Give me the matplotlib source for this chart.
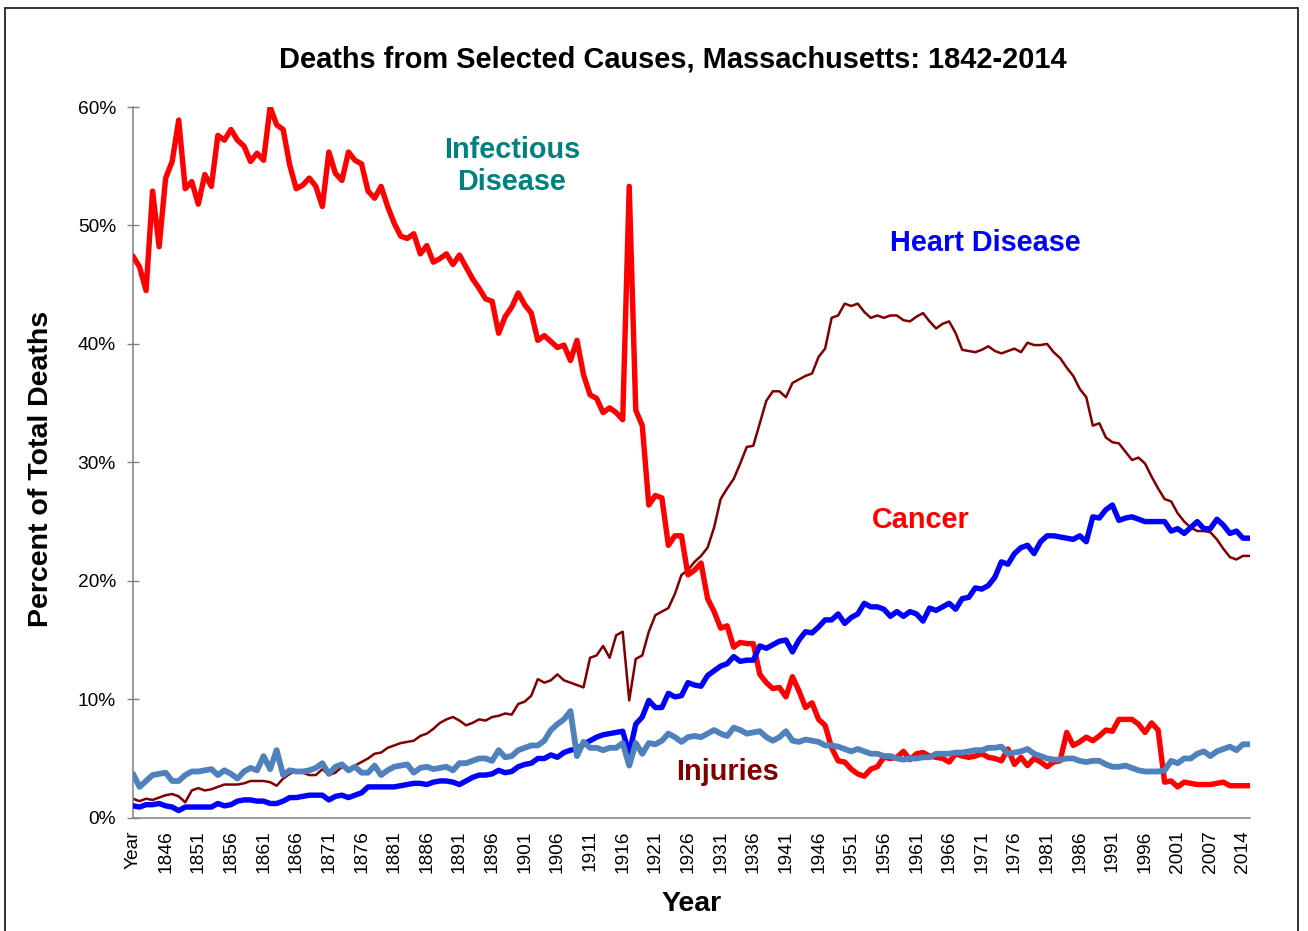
import matplotlib
matplotlib.use("Agg")
import matplotlib.pyplot as plt
from matplotlib.patches import Rectangle

plt.rcParams['font.family'] = ['Liberation Sans', 'DejaVu Sans']

# ---------------- data (percent of total deaths), one value per category ----------------
infectious = [
    47.4, 46.5, 44.5, 52.9, 48.2, 54.0, 55.4, 58.9, 53.1, 53.7,
    51.8, 54.3, 53.3, 57.6, 57.2, 58.1, 57.2, 56.7, 55.4, 56.1,
    55.5, 60.0, 58.5, 58.1, 55.1, 53.1, 53.4, 54.0, 53.3, 51.6,
    56.2, 54.4, 53.8, 56.2, 55.5, 55.2, 52.9, 52.3, 53.3, 51.6,
    50.2, 49.1, 48.9, 49.3, 47.6, 48.3, 46.9, 47.2, 47.6, 46.7,
    47.5, 46.5, 45.5, 44.7, 43.8, 43.6, 40.9, 42.3, 43.1, 44.3,
    43.3, 42.6, 40.3, 40.7, 40.2, 39.7, 39.9, 38.6, 40.3, 37.4,
    35.7, 35.4, 34.2, 34.6, 34.2, 33.6, 53.3, 34.4, 33.1, 26.4,
    27.2, 27.0, 23.0, 23.8, 23.8, 20.5, 20.9, 21.5, 18.5, 17.4,
    16.0, 16.2, 14.4, 14.8, 14.7, 14.7, 12.1, 11.4, 10.9, 11.0,
    10.2, 11.9, 10.7, 9.3, 9.7, 8.3, 7.8, 5.9, 4.8, 4.7,
    4.1, 3.7, 3.5, 4.1, 4.3, 5.1, 5.0, 5.1, 5.6, 4.9,
    5.4, 5.5, 5.2, 5.1, 5.0, 4.7, 5.4, 5.2, 5.1, 5.2,
    5.4, 5.1, 5.0, 4.8, 5.8, 4.5, 5.1, 4.4, 5.0, 4.7,
    4.3, 4.7, 4.8, 7.2, 6.1, 6.4, 6.8, 6.5, 6.9, 7.4,
    7.3, 8.3, 8.3, 8.3, 7.9, 7.2, 8.0, 7.4, 3.0, 3.1,
    2.6, 3.0, 2.9, 2.8, 2.8, 2.8, 2.9, 3.0, 2.7, 2.7,
    2.7, 2.7,
]

heart = [
    1.6, 1.4, 1.6, 1.5, 1.7, 1.9, 2.0, 1.8, 1.3, 2.3,
    2.5, 2.3, 2.4, 2.6, 2.8, 2.8, 2.8, 2.9, 3.1, 3.1,
    3.1, 3.0, 2.7, 3.3, 3.7, 4.0, 3.8, 3.6, 3.6, 4.1,
    3.6, 3.8, 4.3, 4.1, 4.4, 4.7, 5.0, 5.4, 5.5, 5.9,
    6.1, 6.3, 6.4, 6.5, 6.9, 7.1, 7.5, 8.0, 8.3, 8.5,
    8.2, 7.8, 8.0, 8.3, 8.2, 8.5, 8.6, 8.8, 8.7, 9.6,
    9.8, 10.3, 11.7, 11.4, 11.6, 12.1, 11.6, 11.4, 11.2, 11.0,
    13.5, 13.7, 14.5, 13.5, 15.4, 15.7, 9.9, 13.4, 13.7, 15.7,
    17.1, 17.4, 17.7, 18.9, 20.5, 20.9, 21.6, 22.1, 22.8, 24.5,
    26.9, 27.8, 28.6, 29.9, 31.3, 31.4, 33.3, 35.2, 36.0, 36.0,
    35.5, 36.7, 37.0, 37.3, 37.5, 38.9, 39.6, 42.2, 42.4, 43.4,
    43.2, 43.4, 42.7, 42.2, 42.4, 42.2, 42.4, 42.4, 42.0, 41.9,
    42.3, 42.6, 41.9, 41.3, 41.7, 41.9, 40.9, 39.5, 39.4, 39.3,
    39.5, 39.8, 39.4, 39.2, 39.4, 39.6, 39.3, 40.1, 39.9, 39.9,
    40.0, 39.3, 38.8, 38.0, 37.3, 36.2, 35.5, 33.1, 33.3, 32.1,
    31.7, 31.6, 30.9, 30.2, 30.4, 29.9, 28.8, 27.8, 26.9, 26.7,
    25.7, 25.0, 24.5, 24.2, 24.2, 24.1, 23.5, 22.7, 22.0, 21.8,
    22.1, 22.1,
]

cancer = [
    1.0, 0.9, 1.1, 1.1, 1.2, 1.0, 0.9, 0.6, 0.9, 0.9,
    0.9, 0.9, 0.9, 1.2, 1.0, 1.1, 1.4, 1.5, 1.5, 1.4,
    1.4, 1.2, 1.2, 1.4, 1.7, 1.7, 1.8, 1.9, 1.9, 1.9,
    1.5, 1.8, 1.9, 1.7, 1.9, 2.1, 2.6, 2.6, 2.6, 2.6,
    2.6, 2.7, 2.8, 2.9, 2.9, 2.8, 3.0, 3.1, 3.1, 3.0,
    2.8, 3.1, 3.4, 3.6, 3.6, 3.7, 4.0, 3.8, 3.9, 4.3,
    4.5, 4.6, 5.0, 5.0, 5.3, 5.1, 5.5, 5.7, 5.8, 6.2,
    6.5, 6.8, 7.0, 7.1, 7.2, 7.3, 5.4, 7.9, 8.5, 9.9,
    9.3, 9.3, 10.5, 10.2, 10.3, 11.4, 11.2, 11.1, 12.0, 12.4,
    12.8, 13.0, 13.6, 13.2, 13.3, 13.3, 14.5, 14.3, 14.6, 14.9,
    15.0, 14.0, 15.0, 15.7, 15.6, 16.1, 16.7, 16.7, 17.2, 16.4,
    16.9, 17.2, 18.1, 17.8, 17.8, 17.6, 17.0, 17.4, 17.0, 17.4,
    17.2, 16.6, 17.7, 17.5, 17.8, 18.1, 17.6, 18.5, 18.6, 19.4,
    19.3, 19.6, 20.3, 21.6, 21.4, 22.3, 22.8, 23.0, 22.3, 23.3,
    23.8, 23.8, 23.7, 23.6, 23.5, 23.8, 23.3, 25.4, 25.3, 26.0,
    26.4, 25.1, 25.3, 25.4, 25.2, 25.0, 25.0, 25.0, 25.0, 24.2,
    24.4, 24.0, 24.5, 25.0, 24.4, 24.4, 25.2, 24.7, 24.0, 24.2,
    23.6, 23.6,
]

injuries = [
    3.7, 2.6, 3.1, 3.6, 3.7, 3.8, 3.1, 3.1, 3.6, 3.9,
    3.9, 4.0, 4.1, 3.6, 4.0, 3.7, 3.3, 3.9, 4.2, 4.0,
    5.2, 4.1, 5.7, 3.6, 4.0, 3.9, 3.9, 4.0, 4.2, 4.6,
    3.7, 4.3, 4.5, 4.0, 4.3, 3.8, 3.8, 4.4, 3.6, 4.0,
    4.3, 4.4, 4.5, 3.8, 4.2, 4.3, 4.1, 4.2, 4.3, 4.0,
    4.6, 4.6, 4.8, 5.0, 5.0, 4.8, 5.7, 5.1, 5.2, 5.7,
    5.9, 6.1, 6.1, 6.5, 7.4, 7.9, 8.3, 9.0, 5.2, 6.4,
    5.9, 5.9, 5.7, 5.9, 5.9, 6.3, 4.4, 6.3, 5.4, 6.3,
    6.2, 6.5, 7.1, 6.8, 6.4, 6.8, 6.9, 6.8, 7.1, 7.4,
    7.1, 6.9, 7.6, 7.4, 7.1, 7.2, 7.3, 6.8, 6.5, 6.8,
    7.3, 6.5, 6.4, 6.6, 6.5, 6.4, 6.1, 6.1, 6.0, 5.8,
    5.6, 5.8, 5.6, 5.4, 5.4, 5.2, 5.2, 5.0, 4.9, 5.0,
    5.0, 5.1, 5.1, 5.4, 5.4, 5.4, 5.5, 5.5, 5.6, 5.7,
    5.7, 5.9, 5.9, 6.0, 5.4, 5.5, 5.6, 5.8, 5.4, 5.2,
    5.0, 4.9, 4.9, 5.0, 5.0, 4.8, 4.7, 4.8, 4.8, 4.5,
    4.3, 4.3, 4.4, 4.2, 4.0, 3.9, 3.9, 3.9, 4.0, 4.8,
    4.6, 5.0, 5.0, 5.4, 5.6, 5.2, 5.6, 5.8, 6.0, 5.7,
    6.2, 6.2,
]

# category-axis labels (shown every 5th category)
x_tick_labels = ["Year", "1846", "1851", "1856", "1861", "1866", "1871", "1876",
                 "1881", "1886", "1891", "1896", "1901", "1906", "1911", "1916",
                 "1921", "1926", "1931", "1936", "1941", "1946", "1951", "1956",
                 "1961", "1966", "1971", "1976", "1981", "1986", "1991", "1996",
                 "2001", "2007", "2014"]
y_ticks = [0, 10, 20, 30, 40, 50, 60]
y_tick_labels = ["0%", "10%", "20%", "30%", "40%", "50%", "60%"]

# ---------------- figure ----------------
W, H = 1308, 931
fig = plt.figure(figsize=(W / 100, H / 100), dpi=100)
ax = fig.add_axes([133 / W, 1 - 817.7 / H, (1249.5 - 133) / W, (817.7 - 107) / H])

n = len(infectious)
xs = list(range(n))

ax.plot(xs, heart, color='#800000', lw=1.8, solid_joinstyle='round',
        solid_capstyle='round', zorder=2)
ax.plot(xs, infectious, color='#FF0000', lw=3.9, solid_joinstyle='round',
        solid_capstyle='round', zorder=3)
ax.plot(xs, cancer, color='#0000FF', lw=3.9, solid_joinstyle='round',
        solid_capstyle='round', zorder=4)
ax.plot(xs, injuries, color='#4F81BD', lw=4.2, solid_joinstyle='round',
        solid_capstyle='round', zorder=5)

ax.set_xlim(0, n - 1)
ax.set_ylim(0, 60)

ax.set_xticks(list(range(0, 5 * len(x_tick_labels), 5)))
ax.set_xticklabels(x_tick_labels, rotation=90, fontsize=13.8)
ax.set_yticks(y_ticks)
ax.set_yticklabels(y_tick_labels, fontsize=13.8)

ax.tick_params(axis='x', length=0, pad=9)
ax.tick_params(axis='y', direction='inout', length=8.6, width=1.0, color='#808080', pad=8)

for side in ['top', 'right']:
    ax.spines[side].set_visible(False)
for side in ['left', 'bottom']:
    ax.spines[side].set_color('#808080')
    ax.spines[side].set_linewidth(1.1)
ax.set_facecolor('none')

# annotations
ax.text(58.0, 55.0, "Infectious\nDisease", color='#008080', fontsize=20.8,
        fontweight='bold', ha='center', va='center', linespacing=1.17)
ax.text(130.5, 48.5, "Heart Disease", color='#0000FF', fontsize=20.8,
        fontweight='bold', ha='center', va='center')
ax.text(120.7, 25.1, "Cancer", color='#FF0000', fontsize=20.8,
        fontweight='bold', ha='center', va='center')
ax.text(91.1, 3.85, "Injuries", color='#800000', fontsize=20.8,
        fontweight='bold', ha='center', va='center')

fig.text(673 / W, 1 - 60 / H, "Deaths from Selected Causes, Massachusetts: 1842-2014",
         fontsize=20.9, fontweight='bold', ha='center', va='center')
fig.text(41 / W, 1 - 469 / H, "Percent of Total Deaths", fontsize=20.5,
         fontweight='bold', rotation=90, ha='center', va='center')
fig.text(692 / W, 1 - 904 / H, "Year", fontsize=20.5, fontweight='bold',
         ha='center', va='center')

# chart border
fig.patches.append(Rectangle((5 / W, -0.05), (1298 - 5) / W, 1 - 8 / H + 0.05,
                             transform=fig.transFigure, fill=False,
                             edgecolor='#222222', lw=1.3))

fig.savefig("out.png", dpi=100)
